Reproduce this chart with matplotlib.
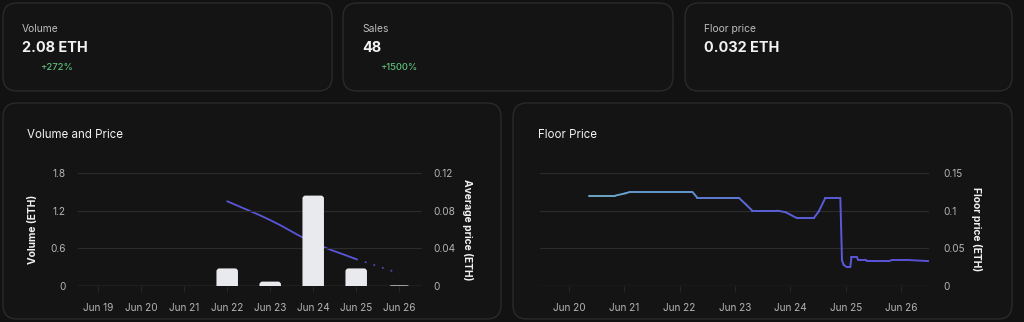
import numpy as np
import matplotlib
matplotlib.use("Agg")
import matplotlib.pyplot as plt
from matplotlib.patches import FancyBboxPatch, PathPatch
from matplotlib.path import Path
from matplotlib.collections import LineCollection
from matplotlib.colors import LinearSegmentedColormap

plt.rcParams['font.family'] = ['Inter', 'DejaVu Sans']

# =========================================================
# DATA
# =========================================================
stat_titles = ["Volume", "Sales", "Floor price"]
stat_values = ["2.08 ETH", "48", "0.032 ETH"]
stat_changes = ["+272%", "+1500%", None]

days = ["Jun 19", "Jun 20", "Jun 21", "Jun 22", "Jun 23", "Jun 24", "Jun 25", "Jun 26"]
volume_eth = [0, 0, 0, 0.28, 0.07, 1.44, 0.28, 0.01]
avg_price_days = [3, 4, 5, 6]           # solid part of the average price line
avg_price = [0.090, 0.070, 0.046, 0.0285]
avg_price_tail_days = [6, 7]            # last (partial) day, drawn dotted
avg_price_tail = [0.0285, 0.0135]

floor_ticks = ["Jun 20", "Jun 21", "Jun 22", "Jun 23", "Jun 24", "Jun 25", "Jun 26"]
# time in days since Jun 20 00:00
floor_t = [0.36, 0.84, 1.02, 1.11, 2.23, 2.32, 3.07, 3.20, 3.31, 3.76, 3.91,
           4.12, 4.42, 4.51, 4.63, 4.90, 4.93, 4.96, 5.02, 5.08, 5.10, 5.20,
           5.22, 5.35, 5.39, 5.78, 5.84, 6.08, 6.50]
floor_price = [0.120, 0.120, 0.123, 0.125, 0.125, 0.117, 0.117, 0.108, 0.100,
               0.100, 0.098, 0.090, 0.090, 0.099, 0.117, 0.117, 0.034, 0.028,
               0.025, 0.025, 0.038, 0.038, 0.035, 0.035, 0.033, 0.033, 0.0347,
               0.0347, 0.033]

# =========================================================
# STYLE
# =========================================================
W, H = 1024, 322
BG = "#121212"
CARD = "#141414"
CARD_EDGE = "#2a2a2a"
GRID = "#2c2c2c"
TICK = "#b5b5b5"
WHITE = "#f2f2f2"
GREEN = "#5fbf7a"
PURPLE = "#5b55d9"

fig = plt.figure(figsize=(W / 100, H / 100), dpi=100, facecolor=BG)

# full-figure axes in pixel units for the cards and free text
bg = fig.add_axes([0, 0, 1, 1], zorder=-10)
bg.set_xlim(0, W)
bg.set_ylim(H, 0)
bg.axis("off")


def card(x0, y0, x1, y1):
    bg.add_patch(FancyBboxPatch((x0, y0), x1 - x0, y1 - y0,
                                boxstyle="round,pad=0,rounding_size=14",
                                fc=CARD, ec=CARD_EDGE, lw=1.0))


# stat cards
stat_boxes = [(3, 3, 332, 91), (343, 3, 673, 91), (685, 3, 1012, 91)]
for (x0, y0, x1, y1), title, value, change in zip(stat_boxes, stat_titles, stat_values, stat_changes):
    card(x0, y0, x1, y1)
    bg.text(x0 + 19, 29, title, color="#bdbdbd", fontsize=7.4, va="center", ha="left")
    bg.text(x0 + 19, 48, value, color=WHITE, fontsize=10.4, fontweight="bold", va="center", ha="left")
    if change:
        bg.text(x0 + 37, 67, change, color=GREEN, fontsize=6.8, fontweight="medium", va="center", ha="left")

# chart cards
card(3, 103, 501, 319)
card(513, 103, 1012, 319)
bg.text(27, 135, "Volume and Price", color=WHITE, fontsize=8.3, va="center", ha="left")
bg.text(538, 135, "Floor Price", color=WHITE, fontsize=8.3, va="center", ha="left")


def px_axes(x0, y0, x1, y1):
    return fig.add_axes([x0 / W, (H - y1) / H, (x1 - x0) / W, (y1 - y0) / H])


def style_axes(a):
    a.set_facecolor("none")
    for s in a.spines.values():
        s.set_visible(False)
    a.tick_params(colors=TICK, labelsize=7.2, length=0)


# =========================================================
# VOLUME AND PRICE
# =========================================================
ax = px_axes(78, 173, 422, 286)
ax2 = ax.twinx()
ax.set_zorder(ax2.get_zorder() + 1)   # bars in front of the price line
ax.patch.set_visible(False)
style_axes(ax)
style_axes(ax2)

x = np.arange(len(days))
ax.set_xlim(-0.47, 7.53)
ax.set_ylim(0, 1.8)
ax.set_yticks([0, 0.6, 1.2, 1.8])
ax.set_yticklabels(["0", "0.6", "1.2", "1.8"])
ax.grid(axis="y", color=GRID, lw=0.8)
ax.set_axisbelow(True)
ax.axhline(0, color="#4a4a4a", lw=1.0, zorder=1)
ax.set_xticks(x)
ax.set_xticklabels(days)
ax.tick_params(axis="x", length=4, color="#262626", pad=8)
ax.tick_params(axis="y", pad=9)

bar_w = 0.5
for xi, v in zip(x, volume_eth):
    if v <= 0:
        continue
    ax.add_patch(FancyBboxPatch((xi - bar_w / 2, -0.12), bar_w, v + 0.12,
                                boxstyle="round,pad=0,rounding_size=0.07",
                                mutation_aspect=0.68, fc="#e9eaee", ec="none",
                                zorder=3))

ax2.set_ylim(0, 0.12)
ax2.set_yticks([0, 0.04, 0.08, 0.12])
ax2.set_yticklabels(["0", "0.04", "0.08", "0.12"])
ax2.tick_params(axis="y", pad=8)


def monotone_path(xs, ys):
    # cubic bezier through the points with Fritsch-Carlson tangents
    xs = np.asarray(xs, float)
    ys = np.asarray(ys, float)
    d = np.diff(ys) / np.diff(xs)
    m = np.empty_like(ys)
    m[0], m[-1] = d[0], d[-1]
    m[1:-1] = (d[:-1] + d[1:]) / 2
    verts = [(xs[0], ys[0])]
    codes = [Path.MOVETO]
    for i in range(len(xs) - 1):
        h = xs[i + 1] - xs[i]
        verts += [(xs[i] + h / 3, ys[i] + m[i] * h / 3),
                  (xs[i + 1] - h / 3, ys[i + 1] - m[i + 1] * h / 3),
                  (xs[i + 1], ys[i + 1])]
        codes += [Path.CURVE4] * 3
    return Path(verts, codes)


ax2.add_patch(PathPatch(monotone_path(avg_price_days, avg_price),
                        fc="none", ec=PURPLE, lw=1.3, capstyle="round"))
ax2.plot(avg_price_tail_days, avg_price_tail, color=PURPLE, lw=1.3,
         ls=(0, (1, 4)), alpha=0.8)

ax.set_ylabel("Volume (ETH)", color=WHITE, fontsize=7.4, fontweight="bold")
ax.yaxis.set_label_coords(-0.116, 0.5)
ax2.set_ylabel("Average price (ETH)", color=WHITE, fontsize=7.4,
               fontweight="bold", rotation=-90, va="center")
ax2.yaxis.set_label_coords(1.131, 0.5)

# =========================================================
# FLOOR PRICE
# =========================================================
fx = px_axes(540, 173, 929, 286)
style_axes(fx)
fx.set_xlim(-0.52, 6.5)
fx.set_ylim(0, 0.15)
fx.yaxis.tick_right()
fx.yaxis.set_label_position("right")
fx.set_yticks([0, 0.05, 0.1, 0.15])
fx.set_yticklabels(["0", "0.05", "0.1", "0.15"])
fx.tick_params(axis="y", pad=10)
fx.grid(axis="y", color=GRID, lw=0.8)
fx.axhline(0, color="#3a3a3a", lw=0.9)
fx.set_xticks(np.arange(len(floor_ticks)))
fx.set_xticklabels(floor_ticks)
fx.tick_params(axis="x", length=4, color="#262626", pad=8)

# line colour fades from steel blue to purple along the time axis
pts = np.column_stack([floor_t, floor_price])
segs = np.stack([pts[:-1], pts[1:]], axis=1)
grad = LinearSegmentedColormap.from_list(
    "floor", [(0.0, "#6ea9c6"), (0.3, "#5f8fd2"), (0.5, "#5a62d8"), (1.0, "#5a4fd8")])
lc = LineCollection(segs, cmap=grad, lw=1.4, capstyle="round", joinstyle="round")
mid_t = segs[:, :, 0].mean(axis=1)
lc.set_array(mid_t)
lc.set_clim(floor_t[0], floor_t[-1])
fx.add_collection(lc)

fx.set_ylabel("Floor price (ETH)", color=WHITE, fontsize=7.4, fontweight="bold",
              rotation=-90, va="center")
fx.yaxis.set_label_coords(1.123, 0.5)

fig.savefig("out.png", dpi=100, facecolor=BG)
